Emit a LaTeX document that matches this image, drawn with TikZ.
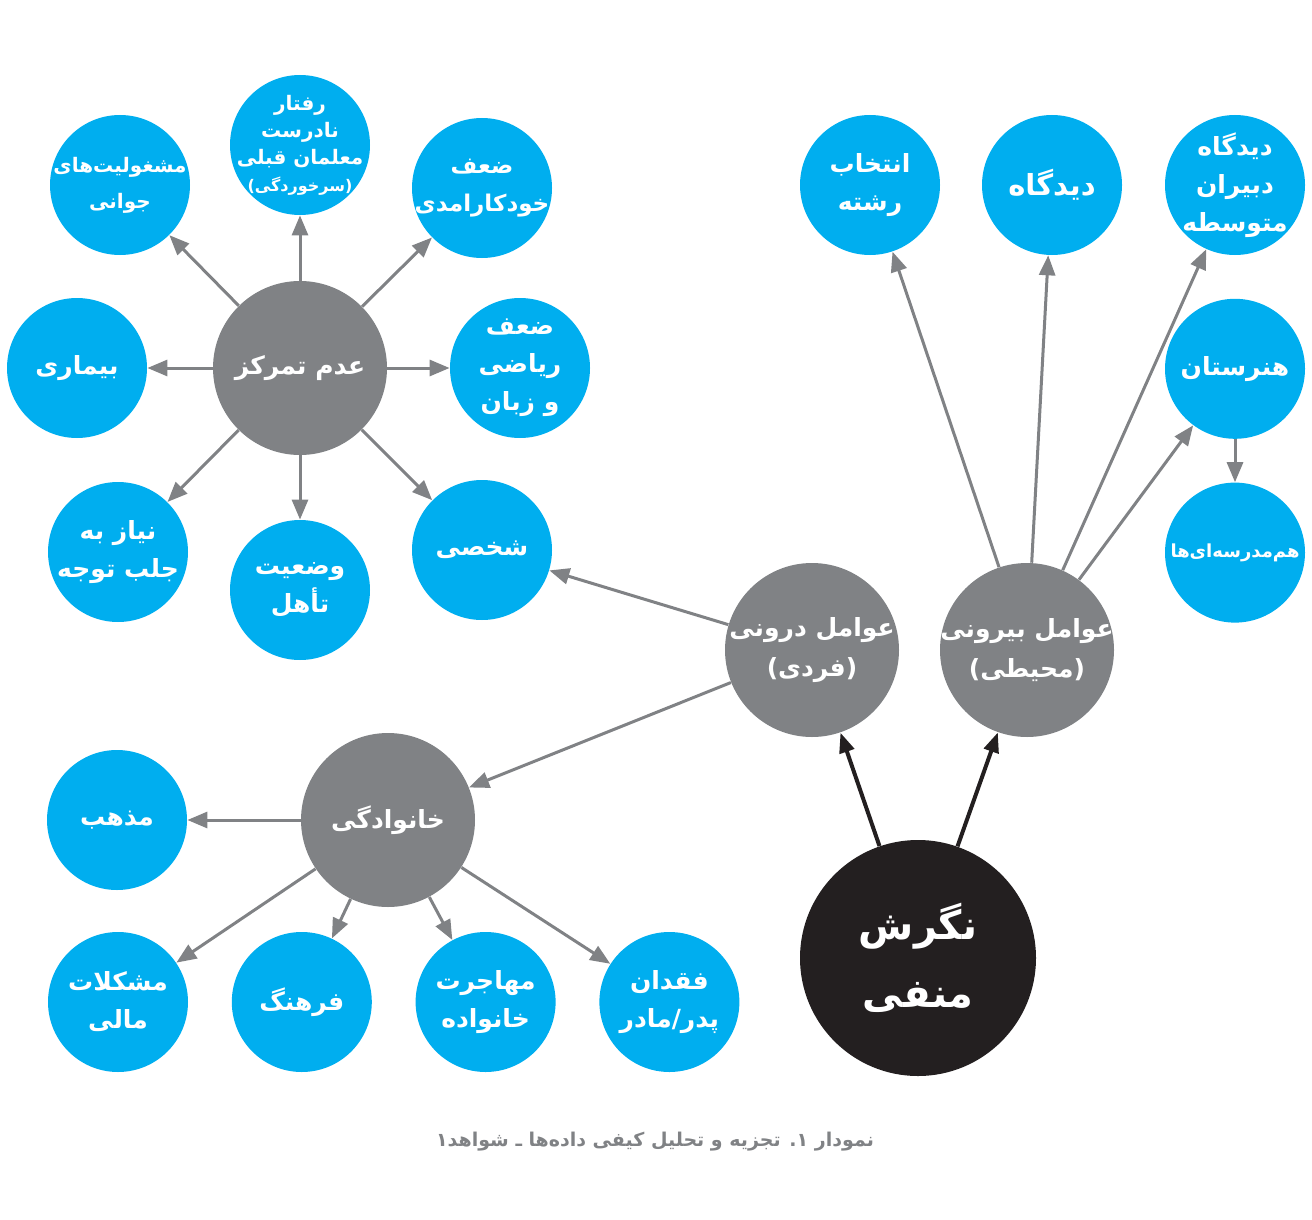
\documentclass[tikz,border=0pt]{standalone}
\usepackage{fontspec}
\usepackage{tikz}
\usetikzlibrary{arrows.meta,positioning}
\TeXXeTstate=1
\newfontfamily\fafont[Script=Arabic]{DejaVu Sans}
\newcommand{\fa}[1]{\beginR #1\endR}
\definecolor{leafblue}{HTML}{00AEEF}
\definecolor{hubgray}{HTML}{808285}
\definecolor{rootblack}{HTML}{231F20}

\begin{document}
\begin{tikzpicture}[x=0.5pt,y=-0.5pt,
 node distance=21.5pt,
 leaf/.style={circle,fill=leafblue,text=white,minimum size=70pt,inner sep=-12pt,align=center,font=\fafont\bfseries\fontsize{12.5}{19}\selectfont},
 hub/.style={circle,fill=hubgray,text=white,minimum size=87pt,inner sep=-12pt,align=center,font=\fafont\bfseries\fontsize{12.5}{20}\selectfont},
 root/.style={circle,fill=rootblack,text=white,minimum size=118pt,inner sep=-10pt,align=center,font=\fafont\bfseries\fontsize{20}{34}\selectfont},
 arrow/.style={-{Triangle[length=10pt,width=8pt]},line width=1.5pt,draw=hubgray},
 rootarrow/.style={-{Triangle[length=10pt,width=7.5pt]},line width=2pt,draw=rootblack}]
\useasboundingbox (0,0) rectangle (1312,1220);
\node[hub] (focus) at (300,368) {\fa{عدم تمرکز}};
\node[leaf,font=\fafont\bfseries\fontsize{10}{18}\selectfont] (youth) at (120,185) {\fa{مشغولیت^^^^200cهای}\\\fa{جوانی}};
\node[leaf,font=\fafont\bfseries\fontsize{10}{13.5}\selectfont] (teach) at (300,145) {\fa{رفتار}\\\fa{نادرست}\\\fa{معلمان قبلی}\\{\fontsize{8}{11}\selectfont\fa{(سرخوردگی)}}};
\node[leaf,font=\fafont\bfseries\fontsize{11.5}{19}\selectfont] (selfeff) at (482,188) {\fa{ضعف}\\\fa{خودکارامدی}};
\node[leaf] (ill) at (77,368) {\fa{بیماری}};
\node[leaf] (mathlang) at (520,368) {\fa{ضعف}\\\fa{ریاضی}\\\fa{و زبان}};
\node[leaf] (attn) at (118,552) {\fa{نیاز به}\\\fa{جلب توجه}};
\node[leaf] (marital) at (300,590) {\fa{وضعیت}\\\fa{تأهل}};
\node[leaf] (personal) at (482,550) {\fa{شخصی}};
\node[hub] (inner) at (812,650) {\fa{عوامل درونی}\\\fa{(فردی)}};
\node[hub] (outer) at (1027,650) {\fa{عوامل بیرونی}\\\fa{(محیطی)}};
\node[leaf] (field) at (870,185) {\fa{انتخاب}\\\fa{رشته}};
\node[leaf,font=\fafont\bfseries\fontsize{14.5}{19}\selectfont] (view) at (1052,185) {\fa{دیدگاه}};
\node[leaf] (teachview) at (1235,185) {\fa{دیدگاه}\\\fa{دبیران}\\\fa{متوسطه}};
\node[leaf,below=of teachview] (tech) {\fa{هنرستان}};
\node[leaf,below=of tech,font=\fafont\bfseries\fontsize{9}{11}\selectfont] (peers) {\fa{هم^^^^200cمدرسه^^^^200cای^^^^200cها}};
\node[hub] (family) at (388,820) {\fa{خانوادگی}};
\node[leaf] (relig) at (117,820) {\fa{مذهب}};
\node[leaf] (money) at (118,1002) {\fa{مشکلات}\\\fa{مالی}};
\node[leaf,right=of money] (culture) {\fa{فرهنگ}};
\node[leaf,right=of culture] (migr) {\fa{مهاجرت}\\\fa{خانواده}};
\node[leaf,right=of migr] (loss) {\fa{فقدان}\\\fa{پدر/مادر}};
\node[root] (neg) at (918,958) {\fa{نگرش}\\\fa{منفی}};
\node[text=hubgray,font=\fafont\bfseries\fontsize{9.5}{11}\selectfont] (caption) at (655,1142) {\fa{نمودار ۱. تجزیه و تحلیل کیفی داده^^^^200cها ـ شواهد۱}};
\draw[arrow] (focus)--(youth);
\draw[arrow] (focus)--(teach);
\draw[arrow] (focus)--(selfeff);
\draw[arrow] (focus)--(ill);
\draw[arrow] (focus)--(mathlang);
\draw[arrow] (focus)--(attn);
\draw[arrow] (focus)--(marital);
\draw[arrow] (focus)--(personal);
\draw[arrow] (inner)--(personal);
\draw[arrow] (inner)--(family);
\draw[arrow] (outer)--(field);
\draw[arrow] (outer)--(view);
\draw[arrow] (outer)--(teachview);
\draw[arrow] (outer)--(tech);
\draw[arrow] (tech)--(peers);
\draw[arrow] (family)--(relig);
\draw[arrow] (family)--(money);
\draw[arrow] (family)--(culture);
\draw[arrow] (family)--(migr);
\draw[arrow] (family)--(loss);
\draw[rootarrow] (neg)--(inner);
\draw[rootarrow] (neg)--(outer);
\end{tikzpicture}
\end{document}
